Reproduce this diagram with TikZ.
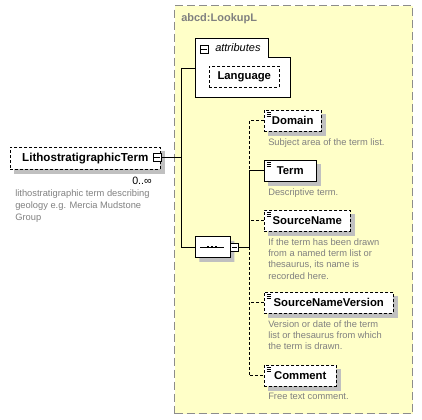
\documentclass[tikz,border=0pt]{standalone}
\usepackage{fontspec}
\setmainfont{Liberation Sans}
\usetikzlibrary{shapes.misc}
\definecolor{typefill}{HTML}{FFFFC8}
\definecolor{typeedge}{HTML}{8C8C8C}
\definecolor{notegray}{HTML}{808080}
\definecolor{shadowgray}{HTML}{C0C0C0}
\pgfdeclarelayer{frame}
\pgfdeclarelayer{shade}
\pgfsetlayers{frame,shade,main}

\tikzset{
  elem/.style={draw, fill=white, anchor=north west, inner sep=0pt,
    minimum height=15.75pt, font=\bfseries\fontsize{8.5}{10}\selectfont},
  optional/.style={dash pattern=on 2.25pt off 1.5pt},
  note/.style={anchor=north west, inner sep=0pt, align=left, text=notegray,
    font=\fontsize{7}{8.6}\selectfont},
  minusbox/.style={draw, fill=white, inner sep=0pt, minimum size=6pt},
  seqshape/.style={chamfered rectangle, chamfered rectangle xsep=3.75pt,
    chamfered rectangle ysep=3.75pt, inner sep=0pt,
    minimum width=26.25pt, minimum height=15.75pt}
}

\begin{document}
\begin{tikzpicture}[x=0.75pt, y=-0.75pt, line width=0.75pt]
\useasboundingbox (0,0) rectangle (422,420);

% complex type frame
\begin{pgfonlayer}{frame}
\node[draw=typeedge, fill=typefill, line width=0.9pt, dash pattern=on 6pt off 3pt,
  anchor=north west, inner sep=0pt, minimum width=178.5pt, minimum height=306pt] (lookup) at (174,5) {};
\end{pgfonlayer}
\node[anchor=west, inner sep=0pt, text=notegray, font=\bfseries\fontsize{8.25}{10}\selectfont] (lookuptitle) at (181,19) {abcd:LookupL};

% root element
\node[elem, optional, minimum width=112.5pt, minimum height=16.5pt, font=\bfseries\fontsize{8.7}{10}\selectfont] (lith) at (10,147) {LithostratigraphicTerm\hspace{5pt}};
\node[minusbox] (lithminus) at (157,157) {};
\draw ([xshift=1.2pt]lithminus.west) -- ([xshift=-1.2pt]lithminus.east);
\node[inner sep=0pt, font=\fontsize{8}{10}\selectfont] (lithocc) at (142,181) {0..∞};
\node[note, font=\fontsize{7}{9}\selectfont] (lithnote) at (15,189) {lithostratigraphic term describing\\geology e.g. Mercia Mudstone\\Group};

% attributes group
\draw[fill=white] (195,38) -- (268,38) -- (268,57) -- (290,57) -- (290,97) -- (195,97) -- cycle;
\coordinate (attrs) at (195,68);
\node[minusbox] (attrminus) at (204,49) {};
\draw ([xshift=1.2pt]attrminus.west) -- ([xshift=-1.2pt]attrminus.east);
\node[anchor=west, inner sep=0pt, font=\itshape\fontsize{8.25}{10}\selectfont] (attrlabel) at (215,48) {attributes};
\node[elem, optional, minimum width=52.5pt] (language) at (209,66) {Language};

% sequence compositor
\node[draw, fill=white, seqshape] (seq) at (212.5,247) {};
\draw (200,247) -- (224,247);
\foreach \dx in {208,212,216}
  \fill (\dx-1.4,245.6) rectangle (\dx+1.4,248.4);
\node[minusbox, anchor=west] (seqminus) at (seq.east) {};
\draw ([xshift=1.2pt]seqminus.west) -- ([xshift=-1.2pt]seqminus.east);

% child elements
\node[elem, optional, minimum width=42.75pt] (domain) at (264,110) {Domain};
\node[elem, minimum width=39pt] (term) at (264,160) {Term\hspace{6pt}};
\node[elem, optional, minimum width=64.5pt] (srcname) at (264,210) {SourceName};
\node[elem, optional, minimum width=96.75pt] (srcver) at (264,292) {SourceNameVersion};
\node[elem, optional, minimum width=54pt] (comment) at (264,365) {Comment};

% shadows
\begin{pgfonlayer}{shade}
\foreach \n in {lith,language,domain,term,srcname,srcver,comment}
  \fill[shadowgray] ([shift={(3.2pt,-3.2pt)}]\n.south west) rectangle ([shift={(3.2pt,-3.2pt)}]\n.north east);
\node[fill=shadowgray, seqshape] (seqshadow) at ([shift={(3.2pt,-3.2pt)}]seq.center) {};
\end{pgfonlayer}

% element icons
\foreach \n in {domain,term,srcname,srcver,comment}
  \foreach \dy in {1.5,3,4.5}
    \draw[line width=0.5pt] ([xshift=1.9pt,yshift=-\dy pt]\n.north west) -- ++(4,0);

% descriptions
\node[note] (domainnote) at (268,138) {Subject area of the term list.};
\node[note] (termnote) at (268,188) {Descriptive term.};
\node[note] (srcnamenote) at (268,238) {If the term has been drawn\\from a named term list or\\thesaurus, its name is\\recorded here.};
\node[note] (srcvernote) at (268,320) {Version or date of the term\\list or thesaurus from which\\the term is drawn.};
\node[note] (commentnote) at (268,393) {Free text comment.};

% connectors
\coordinate (trunk) at (181,157);
\coordinate (trunktop) at (181,68);
\coordinate (trunkbot) at (181,247);
\coordinate (bus) at (249,247);
\draw (lithminus.east) -- (trunk);
\draw (trunktop) -- (trunkbot);
\draw (trunktop) -- (attrs);
\draw (trunkbot) -- (seq.west);
\draw (seqminus.east) -- (bus);
\draw[optional] (domain.west) -| (term.west -| bus);
\draw (term.west) -| (bus);
\draw[optional] (srcname.west) -- (srcname.west -| bus);
\draw[optional] (bus) |- (comment.west);
\draw[optional] (srcver.west) -- (srcver.west -| bus);
\end{tikzpicture}
\end{document}
